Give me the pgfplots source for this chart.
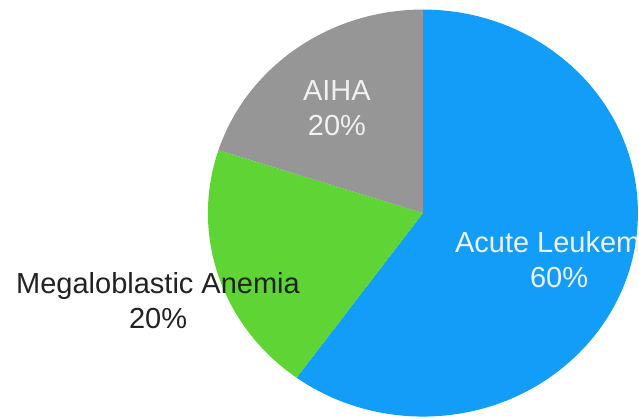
\documentclass[border=0pt]{standalone}
\usepackage{pgfplots}
\pgfplotsset{compat=1.18}
\usepackage{fontspec}
\setmainfont{Liberation Sans}
\definecolor{leuk}{RGB}{18,158,248}
\definecolor{mega}{RGB}{95,213,53}
\definecolor{aiha}{RGB}{150,150,150}
\definecolor{lbl}{RGB}{34,34,34}
\tikzset{slicelabel/.style={font=\fontsize{29}{35}\selectfont, align=center}}
\begin{document}
\begin{tikzpicture}
\begin{axis}[
  scale only axis,
  width=639pt, height=419pt,
  xmin=-1.967, xmax=1.005,
  ymin=-1.012, ymax=1.047,
  hide axis,
  clip=false,
]
% share (%) / colour, clockwise from the top
\pgfplotsextra{
  \gdef\angA{90}
  \foreach \v/\c in {60/leuk, 20/mega, 20/aiha} {
    \pgfmathsetmacro\angB{\angA-3.6*\v}
    \fill[\c] (axis cs:0,0) -- (axis cs:{cos(\angA)},{sin(\angA)})
      arc[start angle=\angA, end angle=\angB, x radius=215pt, y radius=203.5pt] -- cycle;
    \global\let\angA\angB
  }
}
\node[slicelabel, text=white!94!black] at (axis cs:-0.40,0.5135) {AIHA\\20\%};
\node[slicelabel, text=lbl] at (axis cs:-1.232,-0.430) {Megaloblastic Anemia\\20\%};
\node[slicelabel, text=white!94!black] at (axis cs:0.633,-0.2285) {Acute Leukemia\\60\%};
\end{axis}
\pgfresetboundingbox
\path (current axis.south west) rectangle (current axis.north east);
\end{tikzpicture}
\end{document}
